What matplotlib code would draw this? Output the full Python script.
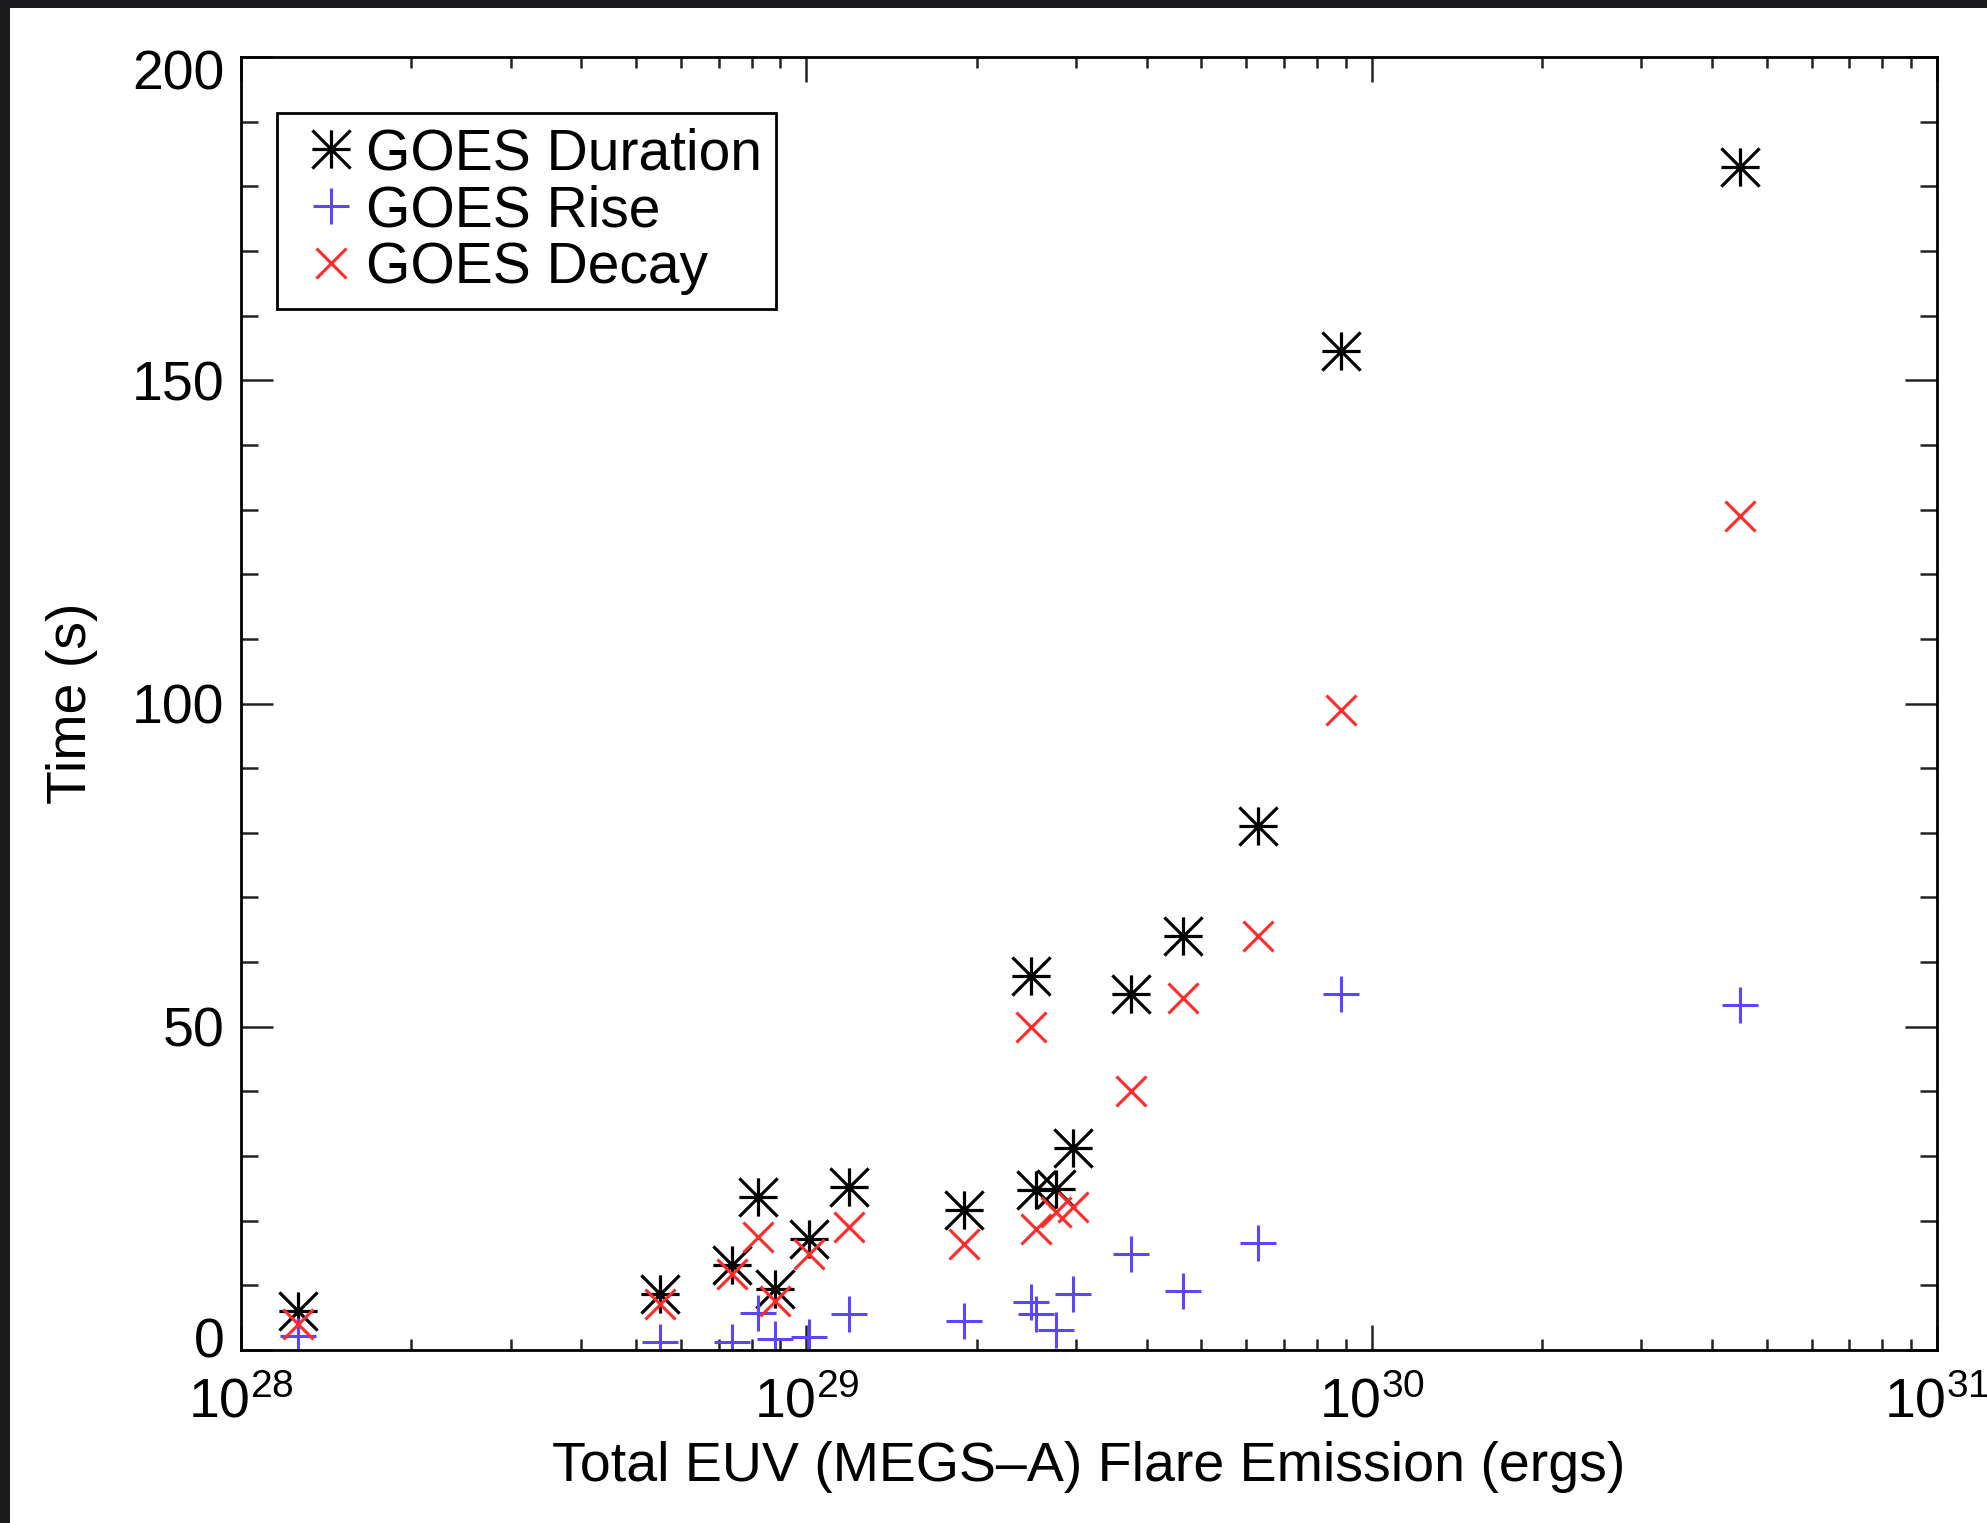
import matplotlib
matplotlib.use("Agg")
import matplotlib.pyplot as plt
import matplotlib.transforms as mtransforms
from matplotlib.path import Path
from matplotlib.patches import Rectangle
from matplotlib.ticker import FixedLocator, LogLocator, NullFormatter

# ---- data ----
energy_ergs = [1.26e28, 5.5e28, 7.4e28, 8.2e28, 8.8e28, 1.01e29, 1.19e29,
               1.9e29, 2.5e29, 2.55e29, 2.77e29, 2.96e29, 3.75e29, 4.63e29,
               6.3e29, 8.83e29, 4.49e30]
goes_duration = [6.0, 8.7, 13.1, 23.6, 9.5, 17.2, 25.2, 21.6, 57.8, 24.7,
                 24.9, 31.3, 55.1, 64.1, 81.0, 154.5, 183.0]
goes_rise = [2.2, 1.2, 1.2, 5.8, 1.7, 2.0, 5.6, 4.5, 7.4, 5.6, 3.1, 8.7,
             14.8, 9.2, 16.5, 55.0, 53.3]
goes_decay = [4.0, 7.1, 11.8, 17.5, 7.6, 14.9, 19.0, 16.4, 50.0, 18.7,
              21.3, 22.1, 40.0, 54.5, 64.0, 99.0, 129.0]
series_labels = ["GOES Duration", "GOES Rise", "GOES Decay"]
y_ticks = [0, 50, 100, 150, 200]
x_ticks = [1e28, 1e29, 1e30, 1e31]
x_tick_labels = [r"$\mathregular{10^{28}}$", r"$\mathregular{10^{29}}$",
                 r"$\mathregular{10^{30}}$", r"$\mathregular{10^{31}}$"]

plt.rcParams["font.family"] = ["Liberation Sans", "DejaVu Sans"]
plt.rcParams["mathtext.default"] = "regular"

# IDL-style asterisk: vertical, horizontal and two corner diagonals
ast_verts = [(0, -1), (0, 1), (-1, 0), (1, 0), (-1, -1), (1, 1), (-1, 1), (1, -1)]
ast_codes = [Path.MOVETO, Path.LINETO] * 4
asterisk = Path(ast_verts, ast_codes)

fig = plt.figure(figsize=(19.87, 15.23), dpi=100)
fig.patch.set_facecolor("white")
ax = fig.add_axes([241 / 1987, 1 - 1350 / 1523, (1937 - 241) / 1987, (1350 - 57) / 1523])

black = "#000000"
blue = "#5a46ff"
red = "#ff2a2a"

ax.plot(energy_ergs, goes_duration, linestyle="none", marker=asterisk,
        markersize=27.5, markeredgewidth=2.3, color=black, label=series_labels[0])
ax.plot(energy_ergs, goes_rise, linestyle="none", marker="+",
        markersize=25.5, markeredgewidth=2.2, color=blue, label=series_labels[1])
ax.plot(energy_ergs, goes_decay, linestyle="none", marker="x",
        markersize=21, markeredgewidth=2.2, color=red, label=series_labels[2])

ax.set_xscale("log")
ax.set_xlim(1e28, 1e31)
ax.set_ylim(0, 200)

ax.xaxis.set_major_locator(FixedLocator(x_ticks))
ax.set_xticklabels(x_tick_labels)
ax.xaxis.set_minor_locator(LogLocator(base=10, subs=range(2, 10)))
ax.xaxis.set_minor_formatter(NullFormatter())
ax.yaxis.set_major_locator(FixedLocator(y_ticks))
ax.yaxis.set_minor_locator(FixedLocator(list(range(0, 201, 10))))

for sp in ax.spines.values():
    sp.set_linewidth(2.0)

ax.tick_params(axis="both", which="both", direction="in", top=True, right=True,
               width=1.8, color="#222222")
ax.tick_params(axis="y", which="major", length=23, labelsize=40, pad=12)
ax.tick_params(axis="y", which="minor", length=12)
ax.tick_params(axis="x", which="major", length=18, labelsize=40, pad=20)
ax.tick_params(axis="x", which="minor", length=8)

# IDL keeps the end labels inside the axis range
ylabels = ax.get_yticklabels()
ylabels[0].set_transform(ylabels[0].get_transform() +
                         mtransforms.ScaledTranslation(0, 9 / 72, fig.dpi_scale_trans))
ylabels[-1].set_transform(ylabels[-1].get_transform() +
                          mtransforms.ScaledTranslation(0, -9 / 72, fig.dpi_scale_trans))

ax.set_xlabel("Total EUV (MEGS\u2013A) Flare Emission (ergs)", fontsize=40, labelpad=8)
ax.set_ylabel("Time (s)", fontsize=40, labelpad=24)

leg = ax.legend(loc="upper left",
                bbox_to_anchor=((277 - 241) / (1937 - 241), 1 - (113 - 57) / (1350 - 57)),
                fontsize=41, frameon=True, fancybox=False, framealpha=1,
                edgecolor="black", handlelength=1.38, handletextpad=-0.07,
                labelspacing=0.05, borderpad=0.25, borderaxespad=0.0,
                markerscale=1.0)
leg.get_frame().set_linewidth(2.0)

# dark frame on the left and top edges of the picture
fig.patches.append(Rectangle((0, 0), 10 / 1987, 1, transform=fig.transFigure,
                             facecolor="#1c1c1e", edgecolor="none", zorder=10))
fig.patches.append(Rectangle((0, 1 - 8 / 1523), 1, 8 / 1523, transform=fig.transFigure,
                             facecolor="#1c1c1e", edgecolor="none", zorder=10))

fig.savefig("out.png", dpi=100, facecolor="white")
